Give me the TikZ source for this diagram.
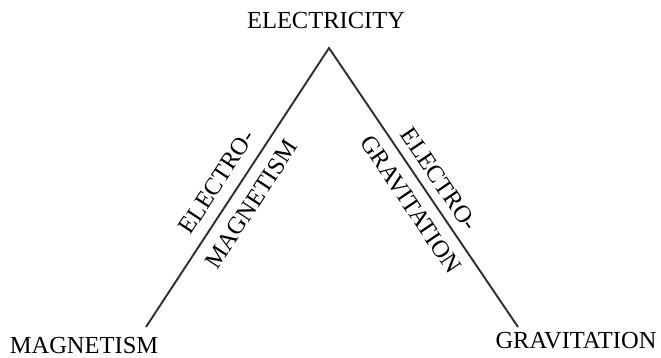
\documentclass[tikz,border=0pt]{standalone}
\usepackage{fontspec}
\setmainfont{Liberation Serif}
\usepackage{tikz}
\usetikzlibrary{positioning}

\begin{document}
\begin{tikzpicture}[x=1pt,y=1pt,
  lbl/.style={font=\fontsize{24.5}{28}\selectfont, inner sep=0pt},
  side/.style={line width=1.9pt, draw=black!82}]
\useasboundingbox (0,0) rectangle (661,358);
\coordinate (T) at (329,310);
\coordinate (L) at (146,31);
\coordinate (R) at (518,31);
\node[lbl] (elec) at (326,337) {ELECTRICITY};
\node[lbl] (magn) at (84,12) {MAGNETISM};
\node[lbl] (grav) at (576,17) {GRAVITATION};
\draw[side] (L) -- node[lbl, pos=0.48, sloped, above=11.3pt] (em1) {ELECTRO-}
                   node[lbl, pos=0.48, sloped, below=11.5pt] (em2) {MAGNETISM} (T)
              -- node[lbl, pos=0.506, sloped, above=8.7pt] (eg1) {ELECTRO-}
                 node[lbl, pos=0.52, sloped, below=10.7pt] (eg2) {GRAVITATION} (R);
\end{tikzpicture}
\end{document}
